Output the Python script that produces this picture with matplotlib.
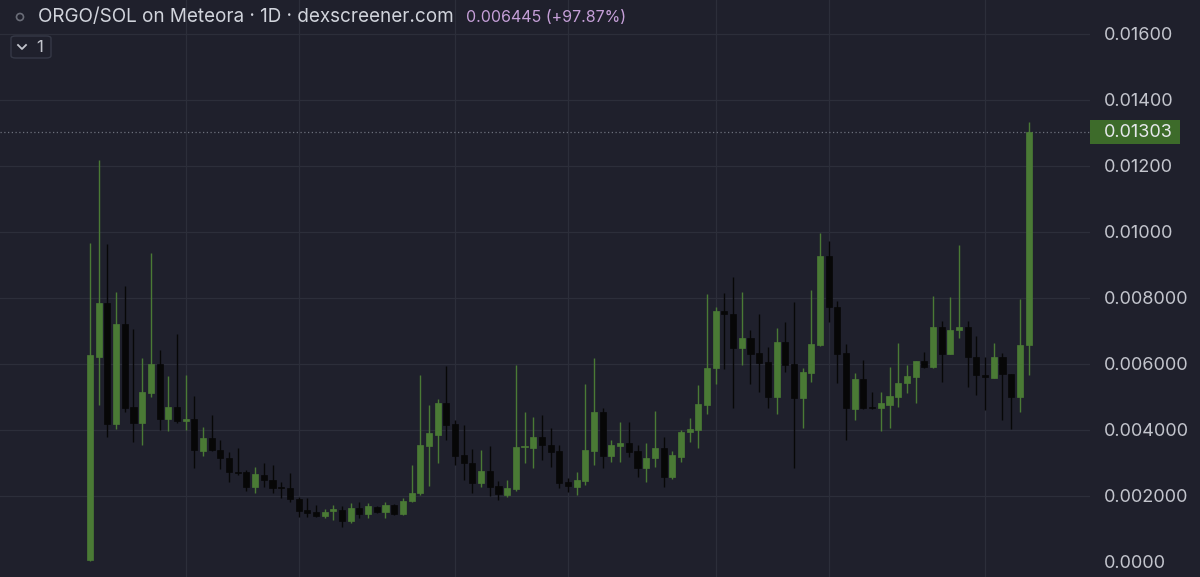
import numpy as np
import matplotlib.pyplot as plt
import matplotlib.transforms as mtransforms
from matplotlib.patches import Rectangle, FancyBboxPatch, Ellipse
from matplotlib.lines import Line2D

# daily candles ORGO/SOL
opens = [0.00006, 0.00621, 0.00785, 0.00418, 0.00721, 0.00470, 0.00421, 0.00512, 0.00600, 0.00433,
         0.00470, 0.00427, 0.00433, 0.00336, 0.00376, 0.00339, 0.00315, 0.00273, 0.00273, 0.00227,
         0.00264, 0.00248, 0.00227, 0.00224, 0.00191, 0.00158, 0.00152, 0.00139, 0.00155, 0.00158,
         0.00124, 0.00164, 0.00145, 0.00167, 0.00152, 0.00173, 0.00145, 0.00185, 0.00209, 0.00352,
         0.00385, 0.00482, 0.00418, 0.00324, 0.00300, 0.00239, 0.00276, 0.00230, 0.00203, 0.00221,
         0.00348, 0.00345, 0.00379, 0.00355, 0.00336, 0.00242, 0.00227, 0.00245, 0.00336, 0.00455,
         0.00321, 0.00352, 0.00360, 0.00336, 0.00285, 0.00315, 0.00345, 0.00258, 0.00318, 0.00394,
         0.00400, 0.00476, 0.00588, 0.00761, 0.00752, 0.00648, 0.00679, 0.00633, 0.00606, 0.00500,
         0.00667, 0.00600, 0.00497, 0.00573, 0.00658, 0.00927, 0.00773, 0.00633, 0.00464, 0.00555,
         0.00470, 0.00467, 0.00476, 0.00500, 0.00542, 0.00561, 0.00609, 0.00591, 0.00712, 0.00630,
         0.00703, 0.00712, 0.00621, 0.00567, 0.00558, 0.00621, 0.00570, 0.00500, 0.00659]
highs = [0.00967, 0.01218, 0.00964, 0.00818, 0.00836, 0.00706, 0.00618, 0.00936, 0.00642, 0.00564,
         0.00691, 0.00567, 0.00503, 0.00409, 0.00445, 0.00370, 0.00333, 0.00345, 0.00279, 0.00288,
         0.00300, 0.00294, 0.00242, 0.00270, 0.00197, 0.00194, 0.00173, 0.00161, 0.00173, 0.00170,
         0.00179, 0.00182, 0.00179, 0.00170, 0.00182, 0.00176, 0.00194, 0.00294, 0.00567, 0.00476,
         0.00494, 0.00594, 0.00430, 0.00415, 0.00342, 0.00339, 0.00352, 0.00245, 0.00248, 0.00597,
         0.00455, 0.00439, 0.00445, 0.00406, 0.00355, 0.00255, 0.00273, 0.00539, 0.00618, 0.00467,
         0.00370, 0.00424, 0.00424, 0.00355, 0.00360, 0.00458, 0.00379, 0.00336, 0.00400, 0.00436,
         0.00536, 0.00812, 0.00773, 0.00815, 0.00864, 0.00818, 0.00703, 0.00752, 0.00652, 0.00709,
         0.00727, 0.00788, 0.00588, 0.00824, 0.00997, 0.00973, 0.00791, 0.00661, 0.00573, 0.00612,
         0.00515, 0.00515, 0.00591, 0.00664, 0.00597, 0.00609, 0.00636, 0.00806, 0.00730, 0.00803,
         0.00961, 0.00730, 0.00685, 0.00621, 0.00664, 0.00633, 0.00570, 0.00797, 0.01333]
lows = [0.00003, 0.00476, 0.00379, 0.00403, 0.00455, 0.00364, 0.00355, 0.00500, 0.00400, 0.00397,
        0.00421, 0.00400, 0.00285, 0.00321, 0.00336, 0.00282, 0.00242, 0.00264, 0.00215, 0.00209,
        0.00227, 0.00209, 0.00194, 0.00182, 0.00136, 0.00136, 0.00136, 0.00133, 0.00127, 0.00106,
        0.00118, 0.00133, 0.00133, 0.00148, 0.00133, 0.00142, 0.00142, 0.00182, 0.00203, 0.00230,
        0.00300, 0.00370, 0.00294, 0.00248, 0.00209, 0.00227, 0.00200, 0.00188, 0.00197, 0.00215,
        0.00300, 0.00285, 0.00309, 0.00288, 0.00224, 0.00212, 0.00203, 0.00233, 0.00294, 0.00285,
        0.00303, 0.00303, 0.00318, 0.00258, 0.00242, 0.00288, 0.00227, 0.00252, 0.00303, 0.00364,
        0.00345, 0.00448, 0.00539, 0.00585, 0.00467, 0.00597, 0.00539, 0.00515, 0.00467, 0.00448,
        0.00576, 0.00285, 0.00406, 0.00545, 0.00655, 0.00727, 0.00542, 0.00370, 0.00430, 0.00464,
        0.00464, 0.00397, 0.00406, 0.00470, 0.00512, 0.00482, 0.00588, 0.00588, 0.00545, 0.00630,
        0.00679, 0.00530, 0.00506, 0.00461, 0.00558, 0.00430, 0.00403, 0.00455, 0.00567]
closes = [0.00627, 0.00785, 0.00418, 0.00721, 0.00467, 0.00421, 0.00515, 0.00600, 0.00433, 0.00470,
          0.00427, 0.00433, 0.00339, 0.00376, 0.00339, 0.00315, 0.00273, 0.00270, 0.00227, 0.00267,
          0.00248, 0.00224, 0.00224, 0.00191, 0.00155, 0.00148, 0.00139, 0.00152, 0.00161, 0.00124,
          0.00164, 0.00145, 0.00170, 0.00152, 0.00173, 0.00145, 0.00185, 0.00209, 0.00355, 0.00391,
          0.00482, 0.00415, 0.00321, 0.00300, 0.00239, 0.00276, 0.00227, 0.00206, 0.00224, 0.00348,
          0.00352, 0.00379, 0.00355, 0.00333, 0.00239, 0.00230, 0.00248, 0.00339, 0.00455, 0.00321,
          0.00355, 0.00360, 0.00333, 0.00285, 0.00315, 0.00345, 0.00258, 0.00324, 0.00394, 0.00403,
          0.00479, 0.00588, 0.00761, 0.00752, 0.00648, 0.00679, 0.00630, 0.00603, 0.00500, 0.00667,
          0.00597, 0.00497, 0.00576, 0.00661, 0.00927, 0.00773, 0.00630, 0.00467, 0.00555, 0.00467,
          0.00467, 0.00482, 0.00503, 0.00542, 0.00564, 0.00609, 0.00591, 0.00712, 0.00630, 0.00703,
          0.00712, 0.00621, 0.00567, 0.00561, 0.00621, 0.00570, 0.00500, 0.00659, 0.01303]

ytick_vals = [0.0, 0.002, 0.004, 0.006, 0.008, 0.010, 0.012, 0.014, 0.016]
ytick_labels = ['0.0000', '0.002000', '0.004000', '0.006000', '0.008000',
                '0.01000', '0.01200', '0.01400', '0.01600']
# candle index where the time grid lines fall
time_grid = [11, 24, 42, 55, 72, 85, 103]

title = 'ORGO/SOL on Meteora · 1D · dexscreener.com'
price_text = '0.006445 (+97.87%)'

bg = '#1f202c'
grid_c = '#2c2e3a'
up_c = '#4a7a35'
down_c = '#070707'
text_c = '#c3c5cd'

plt.rcParams['font.family'] = ['Inter', 'DejaVu Sans']

W, H = 1200, 577
fig = plt.figure(figsize=(12, 5.77), dpi=100)
fig.patch.set_facecolor(bg)
ax = fig.add_axes([0, 0, 1090 / W, 1])
ax.set_facecolor(bg)

o = np.array(opens)
h = np.array(highs)
l = np.array(lows)
c = np.array(closes)
x = np.arange(len(o))
cols = [up_c if cc >= oo else down_c for oo, cc in zip(o, c)]

# grid
for v in ytick_vals[1:]:
    ax.axhline(v, color=grid_c, lw=0.9, zorder=0)
for g in time_grid:
    ax.axvline(g, color=grid_c, lw=0.9, zorder=0)

ax.vlines(x, l, h, colors=cols, lw=1.0, zorder=2)
bottoms = np.minimum(o, c)
heights = np.maximum(np.abs(c - o), 0.00003)
ax.bar(x, heights, bottom=bottoms, width=0.7, color=cols, edgecolor=cols, linewidth=0.5, zorder=3)

# last price line
ax.axhline(c[-1], color='#6d707c', lw=0.9, ls=(0, (1, 2)), zorder=1)

# y range: 0 at px 562, 0.002 per 66 px
ax.set_ylim(-15 / 33000, 562 / 33000)
ax.set_xlim(-10.36, 115.07)
for s in ax.spines.values():
    s.set_visible(False)
ax.set_xticks([])
ax.yaxis.tick_right()
ax.set_yticks(ytick_vals)
ax.set_yticklabels(ytick_labels)
ax.tick_params(axis='y', length=0, pad=10, labelsize=13, labelcolor=text_c)

# last price badge
tr = mtransforms.blended_transform_factory(fig.transFigure, ax.transData)
half = 12 / 33000
ax.add_artist(Rectangle((1090 / W, c[-1] - half), 90 / W, 2 * half, transform=tr,
                        facecolor='#3d6b2a', edgecolor='none', clip_on=False, zorder=5))
ax.text(1104 / W, c[-1], '%.5f' % c[-1], transform=tr, ha='left', va='center',
        fontsize=13, color='#e6e8ec', zorder=6, clip_on=False)

# header
fig.text(38 / W, 1 - 17 / H, title, fontsize=13.6, color='#d1d4dc', va='center', ha='left')
fig.text(466 / W, 1 - 17 / H, price_text, fontsize=11.5, color='#c59fd8', va='center', ha='left')
fig.add_artist(Ellipse((20 / W, 1 - 17 / H), 7 / W, 7 / H, transform=fig.transFigure,
                       facecolor='none', edgecolor='#6a6d78', lw=1.2))
fig.add_artist(FancyBboxPatch((11 / W, 1 - 58 / H), 40 / W, 22 / H, transform=fig.transFigure,
                              boxstyle='round,pad=0,rounding_size=0.004',
                              facecolor=bg, edgecolor='#353846', lw=1.0))
fig.add_artist(Line2D([18 / W, 22 / W, 26 / W], [1 - 45 / H, 1 - 49 / H, 1 - 45 / H],
                      transform=fig.transFigure, color='#c3c5cd', lw=1.3))
fig.text(36 / W, 1 - 47 / H, '1', fontsize=12, color='#c3c5cd', va='center', ha='left')

fig.savefig('out.png', dpi=100, facecolor=bg)
